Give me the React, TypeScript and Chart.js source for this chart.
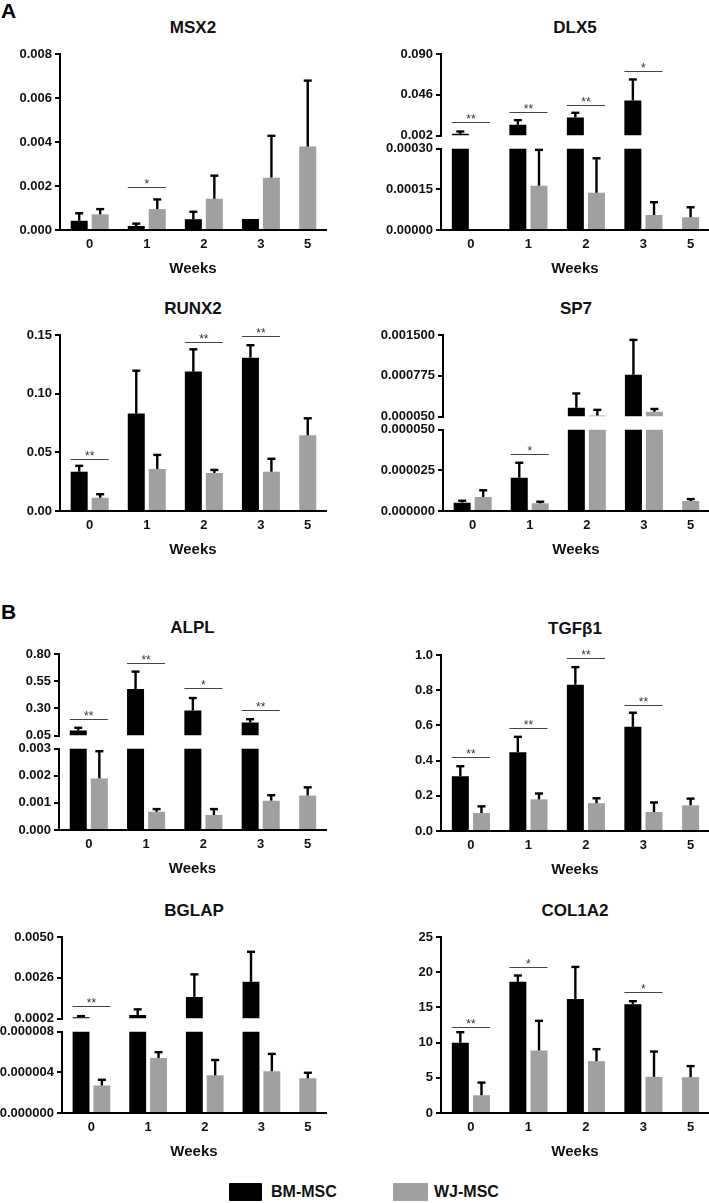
import React, { useEffect, useRef } from 'react';
import { Chart, registerables, CategoryScale } from 'chart.js';

// ---------------- data ----------------
const WEEKS = ['0', '1', '2', '3', '5'];
const SERIES_NAMES = ['BM-MSC', 'WJ-MSC'];

const MSX2_BM = [0.00042, 0.00018, 0.00049, 0.0005, null];
const MSX2_BM_ERR = [0.00034, 0.00011, 0.00034, 0, null];
const MSX2_WJ = [0.00071, 0.00095, 0.00142, 0.00238, 0.00379];
const MSX2_WJ_ERR = [0.00024, 0.00044, 0.00105, 0.0019, 0.003];
const MSX2_SIG = [{ week: 1, mark: '*', y: 0.00197 }];
const MSX2_TICKS = [0, 0.002, 0.004, 0.006, 0.008];
const MSX2_LABELS = ['0.000', '0.002', '0.004', '0.006', '0.008'];

const DLX5_BM = [0.0038, 0.0136, 0.0215, 0.0398, null];
const DLX5_BM_ERR = [0.0025, 0.005, 0.005, 0.0227, null];
const DLX5_WJ = [0, 0.000163, 0.000137, 0.0000553, 0.0000467];
const DLX5_WJ_ERR = [0, 0.000132, 0.000127, 0.000047, 0.000037];
const DLX5_SIG = [
  { week: 0, mark: '**', y: 0.0168 },
  { week: 1, mark: '**', y: 0.0276 },
  { week: 2, mark: '**', y: 0.0352 },
  { week: 3, mark: '*', y: 0.072 },
];
const DLX5_TICKS = [0, 0.00015, 0.0003];
const DLX5_LABELS = ['0.00000', '0.00015', '0.00030'];
const DLX5_TOP_TICKS = [0.002, 0.046, 0.09];
const DLX5_TOP_LABELS = ['0.002', '0.046', '0.090'];

const RUNX2_BM = [0.0335, 0.083, 0.1188, 0.1307, null];
const RUNX2_BM_ERR = [0.005, 0.0366, 0.019, 0.0106, null];
const RUNX2_WJ = [0.0113, 0.0358, 0.0324, 0.0335, 0.0645];
const RUNX2_WJ_ERR = [0.003, 0.012, 0.0026, 0.011, 0.0145];
const RUNX2_SIG = [
  { week: 0, mark: '**', y: 0.0443 },
  { week: 2, mark: '**', y: 0.1438 },
  { week: 3, mark: '**', y: 0.149 },
];
const RUNX2_TICKS = [0, 0.05, 0.1, 0.15];
const RUNX2_LABELS = ['0.00', '0.05', '0.10', '0.15'];

const SP7_BM = [0.0000051, 0.0000204, 0.000205, 0.000793, null];
const SP7_BM_ERR = [0.0000012, 0.0000092, 0.000255, 0.00062, null];
const SP7_WJ = [0.0000086, 0.0000047, 0.000068, 0.000134, 0.0000061];
const SP7_WJ_ERR = [0.0000041, 0.000001, 0.0001, 0.00005, 0.0000012];
const SP7_SIG = [{ week: 1, mark: '*', y: 0.0000349 }];
const SP7_TICKS = [0, 0.000025, 0.00005];
const SP7_LABELS = ['0.000000', '0.000025', '0.000050'];
const SP7_TOP_TICKS = [0.00005, 0.000775, 0.0015];
const SP7_TOP_LABELS = ['0.000050', '0.000775', '0.001500'];

const ALPL_BM = [0.096, 0.478, 0.28, 0.17, null];
const ALPL_BM_ERR = [0.025, 0.16, 0.115, 0.03, null];
const ALPL_WJ = [0.0019, 0.00067, 0.00055, 0.00108, 0.00127];
const ALPL_WJ_ERR = [0.001, 0.0001, 0.00022, 0.0002, 0.0003];
const ALPL_SIG = [
  { week: 0, mark: '**', y: 0.201 },
  { week: 1, mark: '**', y: 0.72 },
  { week: 2, mark: '*', y: 0.487 },
  { week: 3, mark: '**', y: 0.284 },
];
const ALPL_TICKS = [0, 0.001, 0.002, 0.003];
const ALPL_LABELS = ['0.000', '0.001', '0.002', '0.003'];
const ALPL_TOP_TICKS = [0.05, 0.3, 0.55, 0.8];
const ALPL_TOP_LABELS = ['0.05', '0.30', '0.55', '0.80'];

const TGFB1_BM = [0.311, 0.448, 0.831, 0.592, null];
const TGFB1_BM_ERR = [0.057, 0.087, 0.1, 0.08, null];
const TGFB1_WJ = [0.102, 0.18, 0.158, 0.108, 0.146];
const TGFB1_WJ_ERR = [0.038, 0.033, 0.028, 0.054, 0.038];
const TGFB1_SIG = [
  { week: 0, mark: '**', y: 0.418 },
  { week: 1, mark: '**', y: 0.586 },
  { week: 2, mark: '**', y: 0.981 },
  { week: 3, mark: '**', y: 0.715 },
];
const TGFB1_TICKS = [0, 0.2, 0.4, 0.6, 0.8, 1.0];
const TGFB1_LABELS = ['0.0', '0.2', '0.4', '0.6', '0.8', '1.0'];

const BGLAP_BM = [0.00028, 0.0004, 0.00147, 0.00236, null];
const BGLAP_BM_ERR = [0.00006, 0.00034, 0.00133, 0.00177, null];
const BGLAP_WJ = [0.0000027, 0.0000054, 0.0000037, 0.0000041, 0.0000034];
const BGLAP_WJ_ERR = [0.00000056, 0.00000057, 0.0000015, 0.0000017, 0.00000055];
const BGLAP_SIG = [{ week: 0, mark: '**', y: 0.000915 }];
const BGLAP_TICKS = [0, 0.000004, 0.000008];
const BGLAP_LABELS = ['0.000000', '0.000004', '0.000008'];
const BGLAP_TOP_TICKS = [0.0002, 0.0026, 0.005];
const BGLAP_TOP_LABELS = ['0.0002', '0.0026', '0.0050'];

const COL1A2_BM = [9.98, 18.63, 16.2, 15.45, null];
const COL1A2_BM_ERR = [1.5, 0.9, 4.55, 0.43, null];
const COL1A2_WJ = [2.52, 8.89, 7.37, 5.13, 5.09];
const COL1A2_WJ_ERR = [1.8, 4.2, 1.7, 3.6, 1.57];
const COL1A2_SIG = [
  { week: 0, mark: '**', y: 12.26 },
  { week: 1, mark: '*', y: 20.8 },
  { week: 3, mark: '*', y: 17.16 },
];
const COL1A2_TICKS = [0, 5, 10, 15, 20, 25];
const COL1A2_LABELS = ['0', '5', '10', '15', '20', '25'];

// ---------------- styles / layout ----------------
const BM_COLOR = '#000000';
const WJ_COLOR = '#a0a0a0';
const FONT = '"Liberation Sans", Arial, Helvetica, sans-serif';
const TEXT = '#111111';

// horizontal positions of week groups (in group-spacing units) – week 5 holds a single bar
const GROUP_UNITS = [0.52, 1.52, 2.52, 3.52, 4.34];
const SPAN_UNITS = 4.66;

class WeekScale extends CategoryScale {
  static id = 'weeks';
  getPixelForValue(value: any, index?: number) {
    const v = typeof value === 'number' ? value : (this as any).parse(value, index);
    if (v === null || v === undefined || Number.isNaN(v)) return NaN;
    const u = v >= 0 && v < GROUP_UNITS.length ? GROUP_UNITS[v] : v + 0.5;
    return this.getPixelForDecimal(u / SPAN_UNITS);
  }
}

Chart.register(...registerables, WeekScale as any);

type Sig = { week: number; mark: string; y: number };
type Broken = { bottomMax: number; topMin: number; topMax: number; topTicks: number[]; topLabels: string[] };
type PanelDef = {
  key: string;
  title: string;
  bm: (number | null)[];
  bmErr: (number | null)[];
  wj: (number | null)[];
  wjErr: (number | null)[];
  sig: Sig[];
  ticks: number[];
  labels: string[];
  broken?: Broken;
};
type Lay = { col: number; axisTop: number; axisX: number };

const PANELS: PanelDef[] = [
  { key: 'MSX2', title: 'MSX2', bm: MSX2_BM, bmErr: MSX2_BM_ERR, wj: MSX2_WJ, wjErr: MSX2_WJ_ERR, sig: MSX2_SIG, ticks: MSX2_TICKS, labels: MSX2_LABELS },
  { key: 'DLX5', title: 'DLX5', bm: DLX5_BM, bmErr: DLX5_BM_ERR, wj: DLX5_WJ, wjErr: DLX5_WJ_ERR, sig: DLX5_SIG, ticks: DLX5_TICKS, labels: DLX5_LABELS,
    broken: { bottomMax: 0.0003, topMin: 0.002, topMax: 0.09, topTicks: DLX5_TOP_TICKS, topLabels: DLX5_TOP_LABELS } },
  { key: 'RUNX2', title: 'RUNX2', bm: RUNX2_BM, bmErr: RUNX2_BM_ERR, wj: RUNX2_WJ, wjErr: RUNX2_WJ_ERR, sig: RUNX2_SIG, ticks: RUNX2_TICKS, labels: RUNX2_LABELS },
  { key: 'SP7', title: 'SP7', bm: SP7_BM, bmErr: SP7_BM_ERR, wj: SP7_WJ, wjErr: SP7_WJ_ERR, sig: SP7_SIG, ticks: SP7_TICKS, labels: SP7_LABELS,
    broken: { bottomMax: 0.00005, topMin: 0.00005, topMax: 0.0015, topTicks: SP7_TOP_TICKS, topLabels: SP7_TOP_LABELS } },
  { key: 'ALPL', title: 'ALPL', bm: ALPL_BM, bmErr: ALPL_BM_ERR, wj: ALPL_WJ, wjErr: ALPL_WJ_ERR, sig: ALPL_SIG, ticks: ALPL_TICKS, labels: ALPL_LABELS,
    broken: { bottomMax: 0.003, topMin: 0.05, topMax: 0.8, topTicks: ALPL_TOP_TICKS, topLabels: ALPL_TOP_LABELS } },
  { key: 'TGFB1', title: 'TGFβ1', bm: TGFB1_BM, bmErr: TGFB1_BM_ERR, wj: TGFB1_WJ, wjErr: TGFB1_WJ_ERR, sig: TGFB1_SIG, ticks: TGFB1_TICKS, labels: TGFB1_LABELS },
  { key: 'BGLAP', title: 'BGLAP', bm: BGLAP_BM, bmErr: BGLAP_BM_ERR, wj: BGLAP_WJ, wjErr: BGLAP_WJ_ERR, sig: BGLAP_SIG, ticks: BGLAP_TICKS, labels: BGLAP_LABELS,
    broken: { bottomMax: 0.000008, topMin: 0.0002, topMax: 0.005, topTicks: BGLAP_TOP_TICKS, topLabels: BGLAP_TOP_LABELS } },
  { key: 'COL1A2', title: 'COL1A2', bm: COL1A2_BM, bmErr: COL1A2_BM_ERR, wj: COL1A2_WJ, wjErr: COL1A2_WJ_ERR, sig: COL1A2_SIG, ticks: COL1A2_TICKS, labels: COL1A2_LABELS },
];

const LAYOUT: Record<string, Lay> = {
  MSX2: { col: 0, axisTop: 54, axisX: 60 },
  DLX5: { col: 1, axisTop: 54, axisX: 441 },
  RUNX2: { col: 0, axisTop: 335, axisX: 60 },
  SP7: { col: 1, axisTop: 335, axisX: 443 },
  ALPL: { col: 0, axisTop: 654, axisX: 59 },
  TGFB1: { col: 1, axisTop: 655, axisX: 441 },
  BGLAP: { col: 0, axisTop: 937, axisX: 62 },
  COL1A2: { col: 1, axisTop: 937, axisX: 441 },
};

const COLS = [
  { left: 0, width: 354, chartRight: 326 },
  { left: 354, width: 355, chartRight: 709 },
];
const PAD_TOP = 12;
const PLOT_H = 176;
const XAXIS_H = 50;
const CANVAS_H = PAD_TOP + PLOT_H + XAXIS_H;

function makeOverlay(def: PanelDef) {
  return {
    id: 'overlay_' + def.key,
    afterDatasetsDraw(chart: any) {
      const ctx = chart.ctx as CanvasRenderingContext2D;
      const yB = chart.scales.y;
      const yT = chart.scales.yTop;
      const br = def.broken;
      const pix = (v: number) => {
        if (br && v >= br.topMin) return yT.getPixelForValue(Math.min(v, br.topMax));
        return yB.getPixelForValue(br ? Math.min(v, br.bottomMax) : v);
      };
      ctx.save();
      const series: [(number | null)[], (number | null)[]][] = [[def.bm, def.bmErr], [def.wj, def.wjErr]];
      series.forEach(([vals, errs], s) => {
        const meta = chart.getDatasetMeta(s);
        vals.forEach((v, i) => {
          const e = errs[i];
          if (v == null || e == null || e <= 0) return;
          const el = meta.data[i];
          if (!el) return;
          const x = el.x;
          const y1 = pix(v);
          const y2 = pix(v + e);
          ctx.strokeStyle = '#000';
          ctx.lineWidth = 2.4;
          ctx.lineCap = 'butt';
          ctx.beginPath();
          ctx.moveTo(x, y1);
          ctx.lineTo(x, y2);
          ctx.stroke();
          ctx.beginPath();
          ctx.moveTo(x - 4, y2);
          ctx.lineTo(x + 4, y2);
          ctx.stroke();
        });
      });
      def.sig.forEach(({ week, mark, y }) => {
        const a = chart.getDatasetMeta(0).data[week];
        const b = chart.getDatasetMeta(1).data[week];
        if (!a || !b) return;
        const x1 = a.x - a.width / 2;
        const x2 = b.x + b.width / 2;
        const yy = Math.round(pix(y)) + 0.5;
        ctx.strokeStyle = '#444';
        ctx.lineWidth = 1;
        ctx.beginPath();
        ctx.moveTo(x1, yy);
        ctx.lineTo(x2, yy);
        ctx.stroke();
        ctx.fillStyle = '#333';
        ctx.font = `12px ${FONT}`;
        ctx.textAlign = 'center';
        ctx.textBaseline = 'alphabetic';
        ctx.fillText(mark, (x1 + x2) / 2, yy);
      });
      ctx.restore();
    },
  };
}

function buildConfig(def: PanelDef, lay: Lay): any {
  const col = COLS[lay.col];
  const axisW = lay.axisX - col.left;
  const br = def.broken;
  const bottomMax = br ? br.bottomMax : def.ticks[def.ticks.length - 1];
  const clampBottom = (arr: (number | null)[]) => arr.map((v) => (v == null ? null : Math.min(v, bottomMax)));
  const topPart = (arr: (number | null)[]) =>
    arr.map((v) => (v != null && br && v > br.topMin ? [br.topMin, v] : null));
  const barCommon = {
    borderWidth: 0,
    categoryPercentage: 0.897,
    barPercentage: 0.81,
    maxBarThickness: 17,
    skipNull: true,
  };
  const datasets: any[] = [
    { label: SERIES_NAMES[0], data: clampBottom(def.bm), backgroundColor: BM_COLOR, stack: 'bm', yAxisID: 'y', ...barCommon },
    { label: SERIES_NAMES[1], data: clampBottom(def.wj), backgroundColor: WJ_COLOR, stack: 'wj', yAxisID: 'y', ...barCommon },
  ];
  if (br) {
    datasets.push(
      { label: SERIES_NAMES[0] + ' (upper)', data: topPart(def.bm), backgroundColor: BM_COLOR, stack: 'bm', yAxisID: 'yTop', ...barCommon },
      { label: SERIES_NAMES[1] + ' (upper)', data: topPart(def.wj), backgroundColor: WJ_COLOR, stack: 'wj', yAxisID: 'yTop', ...barCommon },
    );
  }
  const tickFont = { family: FONT, size: 13, weight: 'bold' };
  const yAxis = (ticks: number[], labels: string[], min: number, max: number, extra: any) => ({
    type: 'linear',
    position: 'left',
    min,
    max,
    stacked: false,
    afterBuildTicks: (s: any) => {
      s.ticks = ticks.map((v) => ({ value: v }));
    },
    afterFit: (s: any) => {
      s.width = axisW;
    },
    ticks: {
      autoSkip: false,
      padding: 3,
      color: TEXT,
      font: tickFont,
      callback: (_v: any, i: number) => labels[i],
    },
    grid: {
      display: true,
      drawOnChartArea: false,
      drawTicks: true,
      tickLength: 5,
      tickWidth: 2,
      tickColor: '#000',
      lineWidth: 2,
      color: '#000',
    },
    border: { display: true, color: '#000', width: 2 },
    ...extra,
  });
  const scales: any = {
    x: {
      type: 'weeks',
      offset: true,
      grid: { display: false, drawTicks: false },
      border: { display: true, color: '#000', width: 2 },
      ticks: { padding: 7, color: TEXT, font: tickFont, autoSkip: false, maxRotation: 0 },
      title: {
        display: true,
        text: 'Weeks',
        color: TEXT,
        font: { family: FONT, size: 15, weight: 'bold' },
        padding: { top: 0, bottom: 2 },
      },
      afterFit: (s: any) => {
        s.height = XAXIS_H;
      },
    },
    y: yAxis(def.ticks, def.labels, 0, bottomMax, br ? { stack: 'brk', stackWeight: 81.5, weight: 1 } : {}),
  };
  if (br) {
    scales.yGap = {
      type: 'linear',
      position: 'left',
      min: 0,
      max: 1,
      stack: 'brk',
      stackWeight: 13,
      weight: 2,
      afterFit: (s: any) => {
        s.width = axisW;
      },
      ticks: { display: false },
      grid: { display: false, drawTicks: false },
      border: { display: false },
    };
    scales.yTop = yAxis(br.topTicks, br.topLabels, br.topMin, br.topMax, { stack: 'brk', stackWeight: 81.5, weight: 3 });
  }
  return {
    type: 'bar',
    data: { labels: WEEKS, datasets },
    options: {
      responsive: false,
      maintainAspectRatio: false,
      animation: false,
      devicePixelRatio: 1,
      events: [],
      layout: { padding: { top: PAD_TOP, right: col.width - (col.chartRight - col.left), bottom: 0, left: 0 } },
      plugins: { legend: { display: false }, title: { display: false }, tooltip: { enabled: false } },
      scales,
    },
    plugins: [makeOverlay(def)],
  };
}

function Panel({ def }: { def: PanelDef }) {
  const ref = useRef<HTMLCanvasElement | null>(null);
  const lay = LAYOUT[def.key];
  const col = COLS[lay.col];
  useEffect(() => {
    const canvas = ref.current;
    if (!canvas) return;
    const chart = new Chart(canvas, buildConfig(def, lay));
    return () => chart.destroy();
  }, []);
  const titleCenter = lay.axisTop - 26.5;
  return (
    <>
      <div
        style={{
          position: 'absolute',
          left: lay.axisX,
          width: col.chartRight - lay.axisX,
          top: titleCenter - 10,
          height: 20,
          lineHeight: '20px',
          textAlign: 'center',
          fontFamily: FONT,
          fontWeight: 'bold',
          fontSize: 17,
          color: TEXT,
          whiteSpace: 'nowrap',
        }}
      >
        {def.title}
      </div>
      <canvas
        ref={ref}
        width={col.width}
        height={CANVAS_H}
        style={{ position: 'absolute', left: col.left, top: lay.axisTop - PAD_TOP, width: col.width, height: CANVAS_H }}
      />
    </>
  );
}

export default function App() {
  const letter = (t: string, top: number) => (
    <div style={{ position: 'absolute', left: 1, top, fontFamily: FONT, fontWeight: 'bold', fontSize: 21, lineHeight: '21px', color: '#000' }}>{t}</div>
  );
  const legendItem = (name: string, color: string, boxLeft: number, boxW: number, textLeft: number) => (
    <React.Fragment key={name}>
      <div style={{ position: 'absolute', left: boxLeft, top: 1183, width: boxW, height: 18, background: color, borderRadius: 1 }} />
      <div style={{ position: 'absolute', left: textLeft, top: 1182, height: 20, lineHeight: '20px', fontFamily: FONT, fontWeight: 'bold', fontSize: 16, color: TEXT, whiteSpace: 'nowrap' }}>{name}</div>
    </React.Fragment>
  );
  return (
    <div style={{ position: 'absolute', left: 0, top: 0, width: 709, height: 1203, background: '#fff', overflow: 'hidden' }}>
      {letter('A', 0)}
      {letter('B', 601)}
      {PANELS.map((p) => (
        <Panel key={p.key} def={p} />
      ))}
      {legendItem(SERIES_NAMES[0], BM_COLOR, 229, 33, 271)}
      {legendItem(SERIES_NAMES[1], WJ_COLOR, 393, 35, 434)}
    </div>
  );
}
